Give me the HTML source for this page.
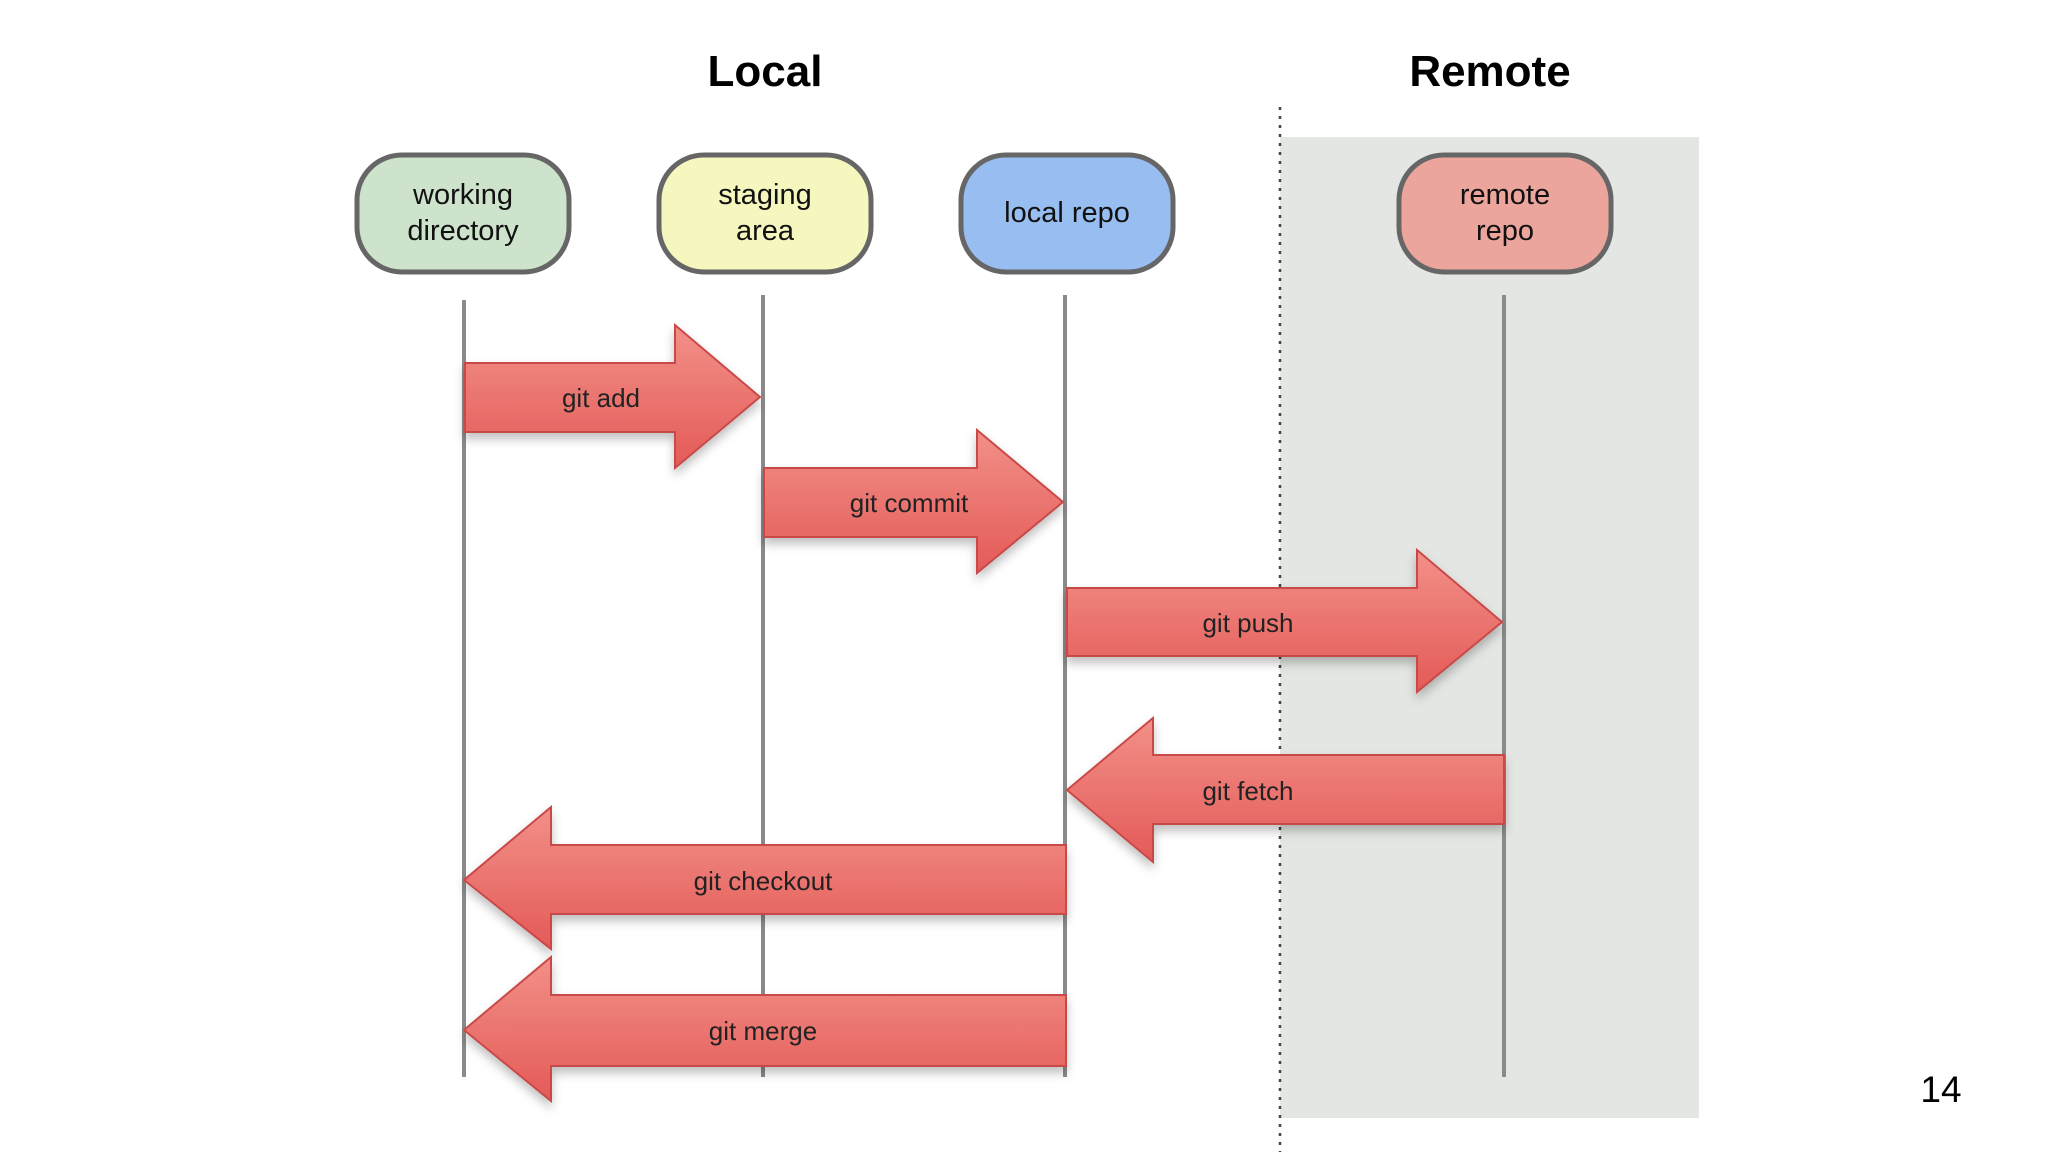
<!DOCTYPE html>
<html><head><meta charset="utf-8"><style>
html,body{margin:0;padding:0;background:#fff;width:2048px;height:1152px;overflow:hidden}
svg{display:block}
text{font-family:"Liberation Sans",Arial,sans-serif}
</style></head><body>
<svg width="2048" height="1152" viewBox="0 0 2048 1152" xmlns="http://www.w3.org/2000/svg">
<defs>
<linearGradient id="ag" x1="0" y1="0" x2="0" y2="1">
<stop offset="0" stop-color="#f29088"/><stop offset="1" stop-color="#e45a58"/>
</linearGradient>
<filter id="sh" x="-10%" y="-10%" width="130%" height="140%"><feDropShadow dx="0" dy="6" stdDeviation="5" flood-color="#000" flood-opacity="0.25"/></filter>
</defs>
<rect x="1280" y="137" width="419" height="981" fill="#e4e6e3"/>
<line x1="1280" y1="107" x2="1280" y2="1152" stroke="#444" stroke-width="2.5" stroke-dasharray="3,6"/>
<text x="765" y="86" font-size="44" font-weight="bold" text-anchor="middle" fill="#000">Local</text>
<text x="1490" y="86" font-size="44" font-weight="bold" text-anchor="middle" fill="#000">Remote</text>
<g stroke="#666" stroke-width="5">
<rect x="357" y="155" width="212" height="117" rx="45" fill="#cde3cb"/>
<rect x="659" y="155" width="212" height="117" rx="45" fill="#f5f7bf"/>
<rect x="961" y="155" width="212" height="117" rx="45" fill="#98bdf0"/>
<rect x="1399" y="155" width="212" height="117" rx="45" fill="#eba59c"/>
</g>
<g font-size="29" fill="#111" text-anchor="middle">
<text x="463" y="204">working</text><text x="463" y="240">directory</text>
<text x="765" y="204">staging</text><text x="765" y="240">area</text>
<text x="1067" y="222">local repo</text>
<text x="1505" y="204">remote</text><text x="1505" y="240">repo</text>
</g>
<g stroke="#8a8a8a" stroke-width="4">
<line x1="464" y1="300" x2="464" y2="1077"/>
<line x1="763" y1="295" x2="763" y2="1077"/>
<line x1="1065" y1="295" x2="1065" y2="1077"/>
<line x1="1504" y1="295" x2="1504" y2="1077"/>
</g>
<g fill="url(#ag)" stroke="#c94a48" stroke-width="2" filter="url(#sh)">
<polygon points="465,363 675,363 675,325 760,397 675,468 675,432 465,432"/>
<polygon points="764,468 977,468 977,430 1063,502 977,573 977,537 764,537"/>
<polygon points="1067,588 1417,588 1417,550 1502,622 1417,692 1417,656 1067,656"/>
<polygon points="1504,755 1153,755 1153,718 1067,790 1153,862 1153,824 1504,824"/>
<polygon points="1066,845 551,845 551,807 464,880 551,949 551,914 1066,914"/>
<polygon points="1066,995 551,995 551,957 464,1030 551,1101 551,1066 1066,1066"/>
</g>
<g font-size="26" fill="#222" text-anchor="middle">
<text x="601" y="407">git add</text>
<text x="909" y="512">git commit</text>
<text x="1248" y="632">git push</text>
<text x="1248" y="800">git fetch</text>
<text x="763" y="890">git checkout</text>
<text x="763" y="1040">git merge</text>
</g>
<text x="1941" y="1102" font-size="37" text-anchor="middle" fill="#000">14</text>
</svg>
</body></html>
